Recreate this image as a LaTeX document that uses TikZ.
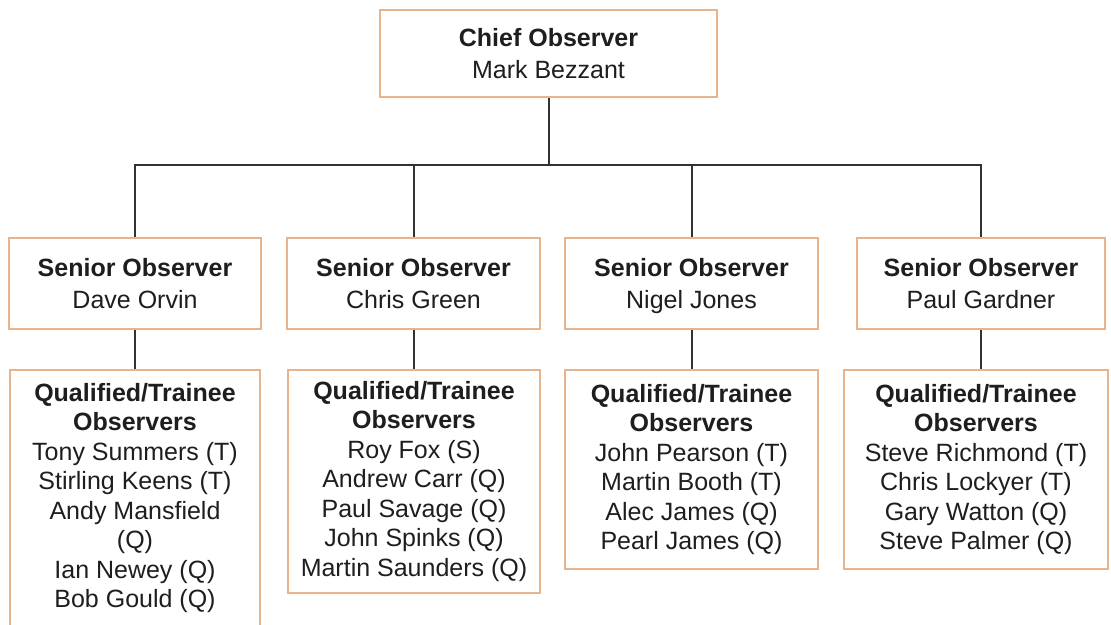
\documentclass[tikz,border=0pt]{standalone}
\usepackage{fontspec}
\setmainfont{Liberation Sans}
\definecolor{boxc}{RGB}{232,180,142}
\definecolor{linec}{RGB}{50,50,50}
\definecolor{txt}{RGB}{30,30,30}
\begin{document}
\begin{tikzpicture}[x=1pt,y=-1pt,
  box/.style={draw=boxc, line width=1.8pt, fill=white, align=center, inner sep=0pt, text=txt, font=\fontsize{25}{32}\selectfont},
  qbox/.style={box, font=\fontsize{25}{29.5}\selectfont},
  conn/.style={draw=linec, line width=2pt}]
\useasboundingbox (0,0) rectangle (1111,624);
\fill[white] (0,0) rectangle (1111,624);
\clip (0,0) rectangle (1111,624);
% top
\node[box, minimum width=337pt, minimum height=87pt] (chief) at (548.5,53.5) {\textbf{Chief Observer}\\Mark Bezzant};
% seniors
\node[box, minimum width=252pt, minimum height=91pt] (s1) at (135,283.5) {\textbf{Senior Observer}\\Dave Orvin};
\node[box, minimum width=253pt, minimum height=91pt] (s2) at (413.5,283.5) {\textbf{Senior Observer}\\Chris Green};
\node[box, minimum width=253pt, minimum height=91pt] (s3) at (691.5,283.5) {\textbf{Senior Observer}\\\smash{Nigel Jones}};
\node[box, minimum width=248pt, minimum height=91pt] (s4) at (981,283.5) {\textbf{Senior Observer}\\Paul Gardner};
% qualified / trainee
\node[qbox, minimum width=250pt, minimum height=256pt] (q1) at (135,498) {\textbf{Qualified/Trainee}\\\textbf{Observers}\\Tony Summers (T)\\Stirling Keens (T)\\Andy Mansfield\\(Q)\\Ian Newey (Q)\\Bob Gould (Q)};
\node[qbox, minimum width=252pt, minimum height=223pt] (q2) at (414,481.5) {\textbf{Qualified/Trainee}\\\textbf{Observers}\\Roy Fox (S)\\Andrew Carr (Q)\\Paul Savage (Q)\\John Spinks (Q)\\Martin Saunders (Q)};
\node[qbox, minimum width=253pt, minimum height=199pt] (q3) at (691.5,469.5) {\textbf{Qualified/Trainee}\\\textbf{Observers}\\John Pearson (T)\\Martin Booth (T)\\Alec James (Q)\\Pearl James (Q)};
\node[qbox, minimum width=264pt, minimum height=199pt] (q4) at (976,469.5) {\textbf{Qualified/Trainee}\\\textbf{Observers}\\Steve Richmond (T)\\Chris Lockyer (T)\\Gary Watton (Q)\\Steve Palmer (Q)};
% connectors
\coordinate (bus) at (0,165);
\draw[conn] (chief.south) -- (chief.south |- bus);
\draw[conn] (s1.north) -- (s1.north |- bus) -- (s4.north |- bus) -- (s4.north);
\draw[conn] (s2.north) -- (s2.north |- bus);
\draw[conn] (s3.north) -- (s3.north |- bus);
\draw[conn] (s1.south) -- (s1.south |- q1.north);
\draw[conn] (s2.south) -- (s2.south |- q2.north);
\draw[conn] (s3.south) -- (s3.south |- q3.north);
\draw[conn] (s4.south) -- (s4.south |- q4.north);
\end{tikzpicture}
\end{document}
